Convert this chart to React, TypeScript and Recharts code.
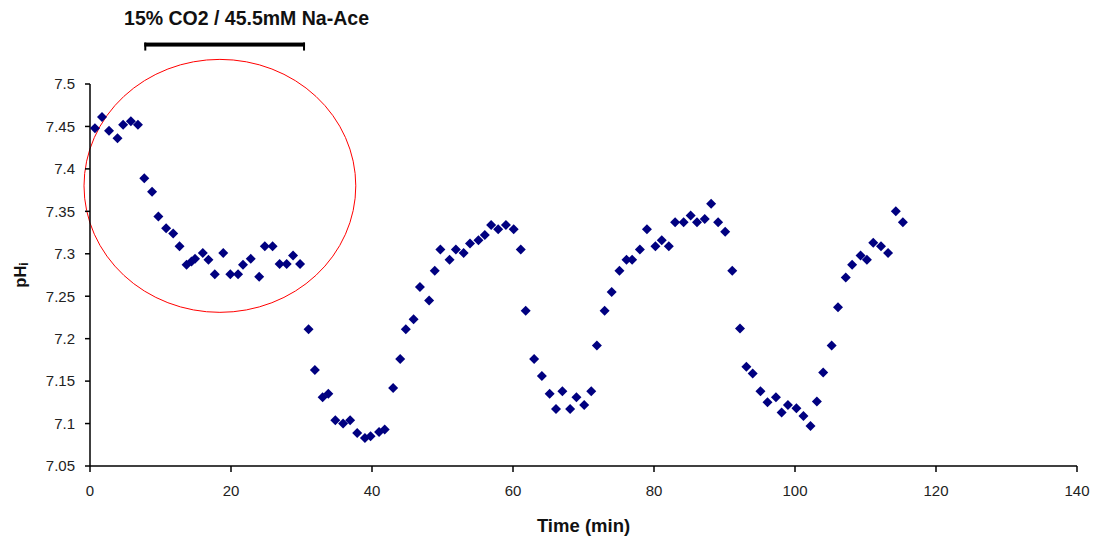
import React from "react"
import {
  ScatterChart, Scatter, XAxis, YAxis, ReferenceArea, ReferenceDot, Label,
} from "recharts"

// time (min) and intracellular pH
const times = [
  0.7, 1.7, 2.7, 3.9, 4.7, 5.8, 6.8, 7.7, 8.8, 9.7, 10.8, 11.8, 12.7, 13.7, 14.4, 14.9,
  16.0, 16.8, 17.7, 18.9, 19.9, 21.0, 21.7, 22.8, 24.0, 24.8, 25.9, 26.9, 27.9, 28.8, 29.8,
  31.0, 31.9, 33.0, 33.8, 34.8, 35.9, 36.9, 37.9, 39.0, 39.8, 41.0, 41.8, 43.0, 44.0, 44.8,
  45.9, 46.8, 48.1, 48.9, 49.7, 51.0, 51.9, 53.0, 53.9, 55.1, 56.0, 56.9, 57.9, 59.0, 60.1,
  61.1, 61.8,
  63.0, 64.1, 65.2, 66.1, 67.0, 68.1, 69.0, 70.1, 71.1, 71.9, 73.0, 74.0, 75.1, 76.1, 76.9,
  78.0, 79.0, 80.2, 81.1, 82.1, 83.0, 84.2, 85.2, 86.1, 87.2, 88.1, 89.1, 90.1, 91.1, 92.2,
  93.1, 94.0, 95.1, 96.1, 97.3, 98.1, 99.0, 100.2, 101.2, 102.2, 103.1, 104.0, 105.2, 106.1,
  107.2, 108.1, 109.3, 110.2, 111.1, 112.2, 113.2, 114.3, 115.3,
]

const phi = [
  7.448, 7.461, 7.445, 7.436, 7.452, 7.456, 7.452, 7.389, 7.373, 7.344, 7.33, 7.324, 7.309,
  7.287, 7.291, 7.294, 7.301, 7.293, 7.276, 7.301, 7.276, 7.276, 7.287, 7.294, 7.273, 7.309,
  7.309, 7.288, 7.288, 7.298, 7.288,
  7.211, 7.163, 7.131, 7.135, 7.104, 7.1, 7.104, 7.089, 7.083, 7.085, 7.09, 7.093, 7.142,
  7.176, 7.211, 7.223, 7.261, 7.245, 7.28, 7.305, 7.293, 7.305, 7.301, 7.312, 7.316, 7.322,
  7.334, 7.329, 7.334, 7.329, 7.305, 7.233,
  7.176, 7.156, 7.135, 7.117, 7.138, 7.117, 7.131, 7.122, 7.138, 7.192, 7.233, 7.255, 7.28,
  7.293, 7.293, 7.305, 7.329, 7.309, 7.316, 7.309, 7.337, 7.337, 7.345, 7.337, 7.341, 7.359,
  7.337, 7.326, 7.28, 7.212, 7.167, 7.159, 7.138, 7.125, 7.131, 7.113, 7.122, 7.118, 7.109,
  7.097, 7.126, 7.16, 7.192, 7.237, 7.272, 7.287, 7.298, 7.293, 7.313, 7.309, 7.301, 7.35,
  7.337,
]

const xTicks = [0, 20, 40, 60, 80, 100, 120, 140]
const yTicks = [7.05, 7.1, 7.15, 7.2, 7.25, 7.3, 7.35, 7.4, 7.45, 7.5]

const title = "15% CO2 / 45.5mM Na-Ace"
// treatment period bar and highlighted region (data units)
const treatment = { from: 7.7, to: 30.5 }
const circled = { x1: -0.85, x2: 37.7, y1: 7.231, y2: 7.529 }

const data = times.map((t, i) => ({ t, ph: phi[i] }))

const FONT = "'Liberation Sans', Arial, sans-serif"
const NAVY = "#000080"

function Diamond(props: any) {
  const { cx, cy } = props
  const r = 5
  return (
    <polygon
      points={`${cx},${cy - r} ${cx + r},${cy} ${cx},${cy + r} ${cx - r},${cy}`}
      fill={NAVY}
    />
  )
}

function Ellipse(props: any) {
  const { x, y, width, height } = props
  return (
    <ellipse
      cx={x + width / 2}
      cy={y + height / 2}
      rx={Math.abs(width) / 2}
      ry={Math.abs(height) / 2}
      fill="none"
      stroke="#ff0000"
      strokeWidth={1}
    />
  )
}

function Bracket(props: any) {
  const { x, y, width, height } = props
  const top = Math.min(y, y + height)
  const bottom = Math.max(y, y + height)
  return (
    <g>
      <rect x={x} y={top} width={width} height={4} fill="#000" />
      <rect x={x} y={top} width={2} height={bottom - top} fill="#000" />
      <rect x={x + width - 2} y={top} width={2} height={bottom - top} fill="#000" />
    </g>
  )
}

function Title(props: any) {
  const { cx, cy } = props
  return (
    <text x={cx} y={cy} textAnchor="middle" fontFamily={FONT} fontWeight="bold" fontSize={19.5} fill="#111">
      {title}
    </text>
  )
}

export default function App() {
  return (
    <div style={{ position: "absolute", left: 0, top: 0, background: "#fff" }}>
      <ScatterChart
        width={1104}
        height={543}
        margin={{ top: 84, right: 27, bottom: 47, left: 30 }}
      >
        <XAxis
          type="number"
          dataKey="t"
          domain={[0, 140]}
          ticks={xTicks}
          allowDataOverflow
          height={30}
          stroke="#000"
          strokeWidth={1.5}
          tickSize={6}
          tickMargin={13}
          tick={{ fill: "#222", fontSize: 15, fontFamily: FONT }}
        >
          <Label
            value="Time (min)"
            position="insideBottom"
            offset={-36}
            style={{ fontFamily: FONT, fontWeight: "bold", fontSize: 18.5, fill: "#111" }}
          />
        </XAxis>
        <YAxis
          type="number"
          dataKey="ph"
          domain={[7.05, 7.5]}
          ticks={yTicks}
          allowDataOverflow
          width={60}
          stroke="#000"
          strokeWidth={1.5}
          tickSize={5}
          tickMargin={10}
          tickFormatter={(v: number) => String(v)}
          tick={{ fill: "#222", fontSize: 15, fontFamily: FONT }}
        >
          <Label
            angle={-90}
            position="insideLeft"
            offset={-18}
            content={(p: any) => {
              const vb = p.viewBox
              const cx = 20
              const cy = vb.y + vb.height / 2
              return (
                <text
                  x={cx}
                  y={cy}
                  transform={`rotate(-90 ${cx} ${cy})`}
                  textAnchor="middle"
                  dominantBaseline="central"
                  fontFamily={FONT}
                  fontWeight="bold"
                  fontSize={16.5}
                  fill="#111"
                >
                  pH<tspan fontSize={12} dy={4}>i</tspan>
                </text>
              )
            }}
          />
        </YAxis>
        <ReferenceArea
          x1={circled.x1}
          x2={circled.x2}
          y1={circled.y1}
          y2={circled.y2}
          ifOverflow="visible"
          shape={Ellipse}
        />
        <ReferenceArea
          x1={treatment.from}
          x2={treatment.to}
          y1={7.5394}
          y2={7.5488}
          ifOverflow="visible"
          shape={Bracket}
        />
        <ReferenceDot x={22.2} y={7.57} ifOverflow="visible" shape={Title} />
        <Scatter data={data} shape={Diamond} isAnimationActive={false} />
      </ScatterChart>
    </div>
  )
}
